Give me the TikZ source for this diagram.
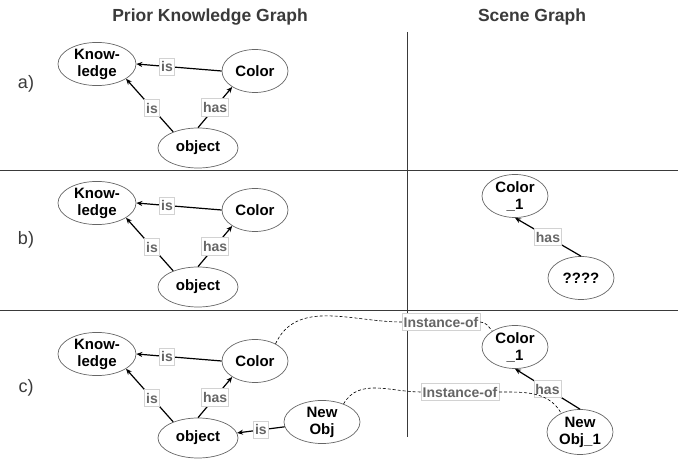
\documentclass[tikz,border=0pt]{standalone}
\usepackage{fontspec}
\setmainfont{Liberation Sans}
\usetikzlibrary{shapes.geometric, arrows.meta}

\definecolor{framegray}{HTML}{3A3A3A}
\definecolor{relgray}{HTML}{666666}
\definecolor{boxgray}{HTML}{D2D2D2}

\tikzset{
    concept/.style={ellipse, draw=black!60, line width=0.7pt, inner sep=0pt, align=center,
        minimum width=66pt, minimum height=43pt, font=\bfseries\fontsize{15}{17}\selectfont},
    rel/.style={rectangle, fill=white, draw=boxgray, line width=0.5pt, inner xsep=1.5pt, inner ysep=3.5pt,
        text=relgray, font=\bfseries\fontsize{14}{16}\selectfont},
    link/.style={-{Stealth[length=6pt, width=5pt]}, line width=1.2pt},
    instof/.style={line width=0.6pt, dash pattern=on 3pt off 2pt},
    heading/.style={text=framegray, font=\bfseries\fontsize{17.5}{21}\selectfont},
    tag/.style={text=framegray, font=\fontsize{18}{21}\selectfont},
    sep/.style={draw=framegray, line width=0.9pt}
}

\begin{document}
\begin{tikzpicture}[x=1pt, y=1pt]
    \useasboundingbox (0, 0) rectangle (681, -462);

    \node[heading] (h1) at (210, -17) {Prior Knowledge Graph};
    \node[heading] (h2) at (532, -17) {Scene Graph};
    \node[tag] (ta) at (26, -84) {a)};
    \node[tag] (tb) at (26, -240) {b)};
    \node[tag] (tc) at (26, -388) {c)};

    \draw[sep] (0, -170) -- (678, -170);
    \draw[sep] (0, -310) -- (678, -310);
    \draw[sep] (407, -32) -- (407, -437);

    \begin{scope}[every node/.style={concept}]
        \node[minimum width=78pt] (k1) at (97, -64) {Know-\\ledge};
        \node (c1) at (255, -71) {Color};
        \node[minimum width=80pt, minimum height=40pt] (o1) at (198, -148) {object};

        \node[minimum width=78pt] (k2) at (97, -203) {Know-\\ledge};
        \node (c2) at (255, -210) {Color};
        \node[minimum width=80pt, minimum height=40pt] (o2) at (198, -287) {object};
        \node (c2s) at (515, -196) {Color\\\_1};
        \node (q2) at (581, -278) {????};

        \node[minimum width=78pt] (k3) at (97, -354) {Know-\\ledge};
        \node (c3) at (255, -361) {Color};
        \node[minimum width=80pt, minimum height=40pt] (o3) at (198, -438) {object};
        \node[minimum width=76pt] (n3) at (322, -422) {New\\Obj};
        \node (c3s) at (515, -347) {Color\\\_1};
        \node[minimum height=45pt] (n3s) at (580, -432) {New\\Obj\_1};
    \end{scope}

    \draw[link] (c1.west) -- (k1.east) node[pos=0.64, rel] {is};
    \draw[link] (o1.147) -- (k1.-27) node[pos=0.45, rel] {is};
    \draw[link] (o1.north) -- (c1.215) node[pos=0.5, rel] {has};

    \draw[link] (c2.west) -- (k2.east) node[pos=0.64, rel] {is};
    \draw[link] (o2.147) -- (k2.-27) node[pos=0.45, rel] {is};
    \draw[link] (o2.north) -- (c2.215) node[pos=0.5, rel] {has};
    \draw[link] (q2.north) -- (c2s.south) node[pos=0.5, rel] {has};

    \draw[link] (c3.west) -- (k3.east) node[pos=0.64, rel] {is};
    \draw[link] (o3.147) -- (k3.-27) node[pos=0.45, rel] {is};
    \draw[link] (o3.north) -- (c3.215) node[pos=0.5, rel] {has};
    \draw[link] (n3) -- (o3) node[pos=0.5, rel] {is};
    \draw[link] (n3s.north) -- (c3s.south) node[pos=0.5, rel] {has};

    \node[rel] (i1) at (441, -322) {Instance-of};
    \node[rel] (i2) at (460, -392) {Instance-of};
    \draw[instof] (c3.40) to[out=65, in=180] (i1.west);
    \draw[instof] (i1.east) to[out=0, in=130] (c3s.145);
    \draw[instof] (n3.40) to[out=60, in=180] (i2.west);
    \draw[instof] (i2.east) to[out=0, in=120] (n3s.135);
\end{tikzpicture}
\end{document}
